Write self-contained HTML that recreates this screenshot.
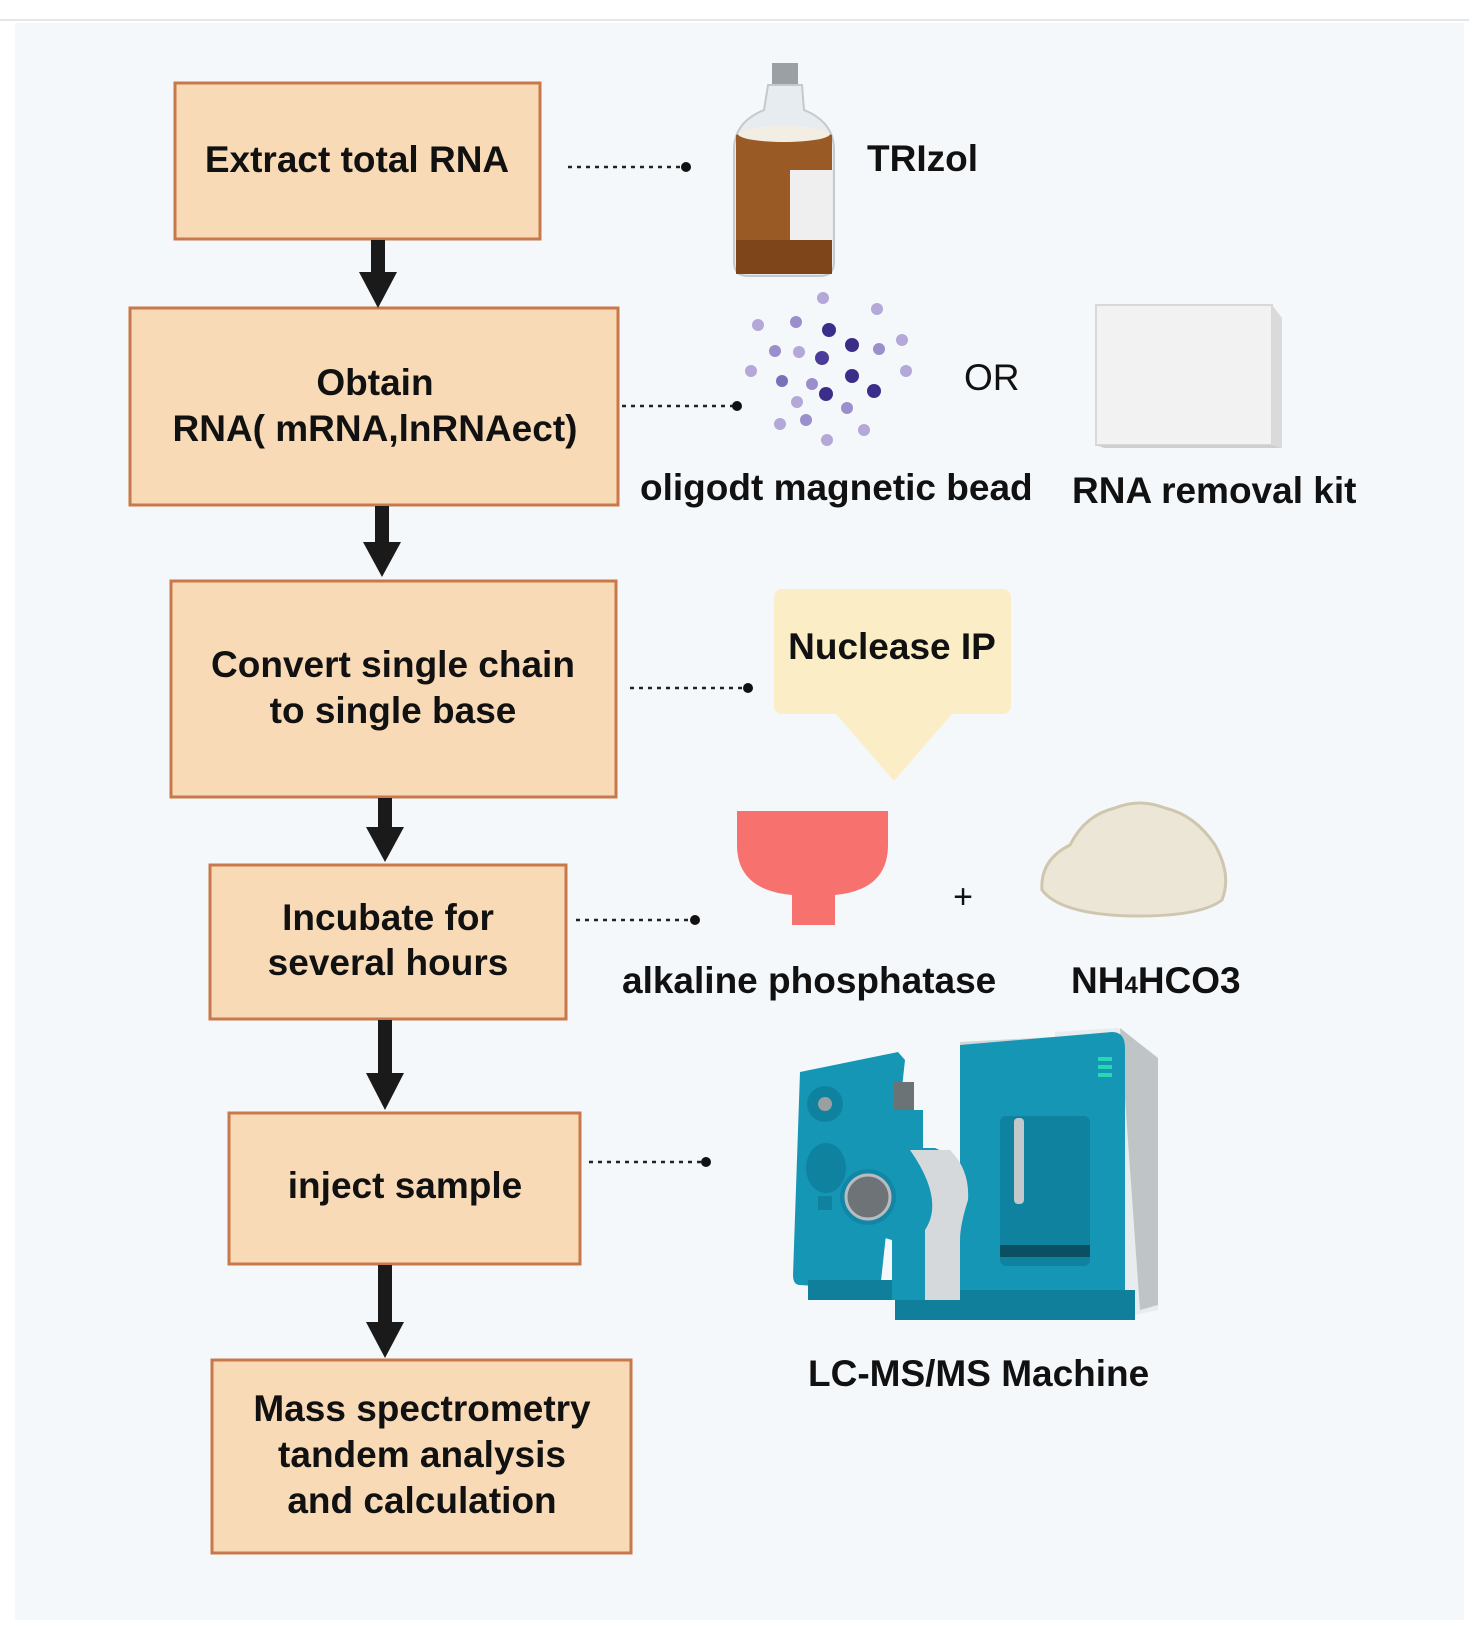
<!DOCTYPE html>
<html><head><meta charset="utf-8"><style>
html,body{margin:0;padding:0;background:#fff;}
svg{display:block;}
text{font-family:"Liberation Sans",sans-serif;font-weight:bold;fill:#111;}
</style></head><body>
<svg width="1469" height="1630" viewBox="0 0 1469 1630" xmlns="http://www.w3.org/2000/svg">
<rect x="0" y="0" width="1469" height="1630" fill="#ffffff"/>
<line x1="0" y1="20" x2="1469" y2="20" stroke="#e4e6e8" stroke-width="2"/>
<rect x="15" y="23" width="1449" height="1597" fill="#f5f8fb"/>

<g fill="#f8dab7" stroke="#c8784a" stroke-width="3">
<rect x="175" y="83" width="365" height="156"/>
<rect x="130" y="308" width="488" height="197"/>
<rect x="171" y="581" width="445" height="216"/>
<rect x="210" y="865" width="356" height="154"/>
<rect x="229" y="1113" width="351" height="151"/>
<rect x="212" y="1360" width="419" height="193"/>
</g>

<g fill="#1a1a1a">
<rect x="371" y="240" width="14" height="34"/><polygon points="359,272 397,272 378,308"/>
<rect x="375" y="506" width="14" height="40"/><polygon points="363,542 401,542 382,577"/>
<rect x="378" y="798" width="14" height="32"/><polygon points="366,827 404,827 385,862"/>
<rect x="378" y="1020" width="14" height="55"/><polygon points="366,1073 404,1073 385,1110"/>
<rect x="378" y="1265" width="14" height="60"/><polygon points="366,1322 404,1322 385,1358"/>
</g>

<g stroke="#222" stroke-width="2.5" stroke-dasharray="4,5">
<line x1="568" y1="167" x2="684" y2="167"/>
<line x1="622" y1="406" x2="735" y2="406"/>
<line x1="630" y1="688" x2="746" y2="688"/>
<line x1="576" y1="920" x2="693" y2="920"/>
<line x1="589" y1="1162" x2="704" y2="1162"/>
</g>
<g fill="#111">
<circle cx="686" cy="167" r="5"/><circle cx="737" cy="406" r="5"/><circle cx="748" cy="688" r="5"/><circle cx="695" cy="920" r="5"/><circle cx="706" cy="1162" r="5"/>
</g>

<g font-size="37" text-anchor="middle">
<text x="357" y="172">Extract total RNA</text>
<text x="375" y="395">Obtain</text>
<text x="375" y="441">RNA( mRNA,lnRNAect)</text>
<text x="393" y="677">Convert single chain</text>
<text x="393" y="723">to single base</text>
<text x="388" y="930">Incubate for</text>
<text x="388" y="975">several hours</text>
<text x="405" y="1198">inject sample</text>
<text x="422" y="1421">Mass spectrometry</text>
<text x="422" y="1467">tandem analysis</text>
<text x="422" y="1513">and calculation</text>
</g>

<!-- bottle -->
<g>
<rect x="772" y="63" width="26" height="22" fill="#9aa0a4"/>
<path d="M768,85 L802,85 L804,110 Q834,122 834,150 L834,262 Q834,276 820,276 L748,276 Q734,276 734,262 L734,150 Q734,122 764,110 Z" fill="#e6ecef" stroke="#c3c9cc" stroke-width="2"/>
<path d="M736,135 Q784,120 832,135 L832,262 Q832,274 820,274 L748,274 Q736,274 736,262 Z" fill="#9a5a26"/>
<rect x="736" y="240" width="96" height="34" fill="#7d4519"/>
<rect x="790" y="170" width="42" height="70" fill="#efefef"/>
<ellipse cx="784" cy="134" rx="46" ry="8" fill="#f3eee4"/>
</g>
<text x="867" y="171" font-size="37">TRIzol</text>

<!-- beads -->
<g>
<circle cx="823" cy="298" r="6" fill="#b3a8d8"/><circle cx="877" cy="309" r="6" fill="#b3a8d8"/>
<circle cx="758" cy="325" r="6" fill="#b3a8d8"/><circle cx="796" cy="322" r="6" fill="#9a8fcc"/>
<circle cx="829" cy="330" r="7" fill="#3b2e8a"/><circle cx="902" cy="340" r="6" fill="#b3a8d8"/>
<circle cx="775" cy="351" r="6" fill="#9a8fcc"/><circle cx="852" cy="345" r="7" fill="#3b2e8a"/>
<circle cx="879" cy="349" r="6" fill="#9a8fcc"/><circle cx="799" cy="352" r="6" fill="#b3a8d8"/>
<circle cx="822" cy="358" r="7" fill="#4a3d9a"/><circle cx="751" cy="371" r="6" fill="#b3a8d8"/>
<circle cx="782" cy="381" r="6" fill="#7b6fbc"/><circle cx="852" cy="376" r="7" fill="#3b2e8a"/>
<circle cx="906" cy="371" r="6" fill="#b3a8d8"/><circle cx="812" cy="384" r="6" fill="#9a8fcc"/>
<circle cx="826" cy="394" r="7" fill="#3b2e8a"/><circle cx="874" cy="391" r="7" fill="#3b2e8a"/>
<circle cx="797" cy="402" r="6" fill="#b3a8d8"/><circle cx="847" cy="408" r="6" fill="#9a8fcc"/>
<circle cx="780" cy="424" r="6" fill="#b3a8d8"/><circle cx="806" cy="420" r="6" fill="#9a8fcc"/>
<circle cx="864" cy="430" r="6" fill="#b3a8d8"/><circle cx="827" cy="440" r="6" fill="#b3a8d8"/>
</g>
<text x="964" y="390" font-size="37" font-weight="normal" style="font-weight:normal">OR</text>
<text x="640" y="500" font-size="37">oligodt magnetic bead</text>

<!-- kit -->
<g>
<rect x="1096" y="305" width="176" height="140" fill="#f2f2f2" stroke="#d8d8d8" stroke-width="2"/>
<polygon points="1272,305 1282,318 1282,448 1272,445" fill="#dadada"/>
<polygon points="1096,445 1272,445 1282,448 1104,448" fill="#cfcfcf"/>
</g>
<text x="1072" y="503" font-size="37">RNA removal kit</text>

<!-- callout -->
<rect x="774" y="589" width="237" height="125" rx="8" fill="#fbeec6"/>
<polygon points="836,714 952,714 894,781" fill="#fbeec6"/>
<text x="892" y="659" font-size="37" text-anchor="middle">Nuclease IP</text>

<!-- red cup -->
<path d="M737,811 L888,811 L888,845 Q888,890 835,895 L835,925 L792,925 L792,895 Q737,890 737,845 Z" fill="#f7726e"/>
<text x="963" y="908" font-size="34" font-weight="normal" text-anchor="middle" style="font-weight:normal">+</text>
<!-- powder -->
<path d="M1042,890 Q1040,860 1070,845 Q1085,815 1115,808 Q1140,798 1165,808 Q1195,815 1215,845 Q1232,875 1222,900 Q1200,917 1130,916 Q1060,914 1042,890 Z" fill="#ece6d6" stroke="#cfc6b0" stroke-width="3"/>
<text x="622" y="993" font-size="37">alkaline phosphatase</text>
<text x="1071" y="993" font-size="37">NH<tspan font-size="24">4</tspan>HCO3</text>

<!-- LC-MS machine -->
<g>
<polygon points="960,1042 1070,1036 1070,1290 960,1290" fill="#d2d6d8"/>
<polygon points="1055,1032 1118,1028 1158,1060 1158,1310 1120,1318 1055,1318" fill="#e9ecee"/>
<polygon points="1120,1028 1158,1058 1158,1305 1140,1310" fill="#bfc4c6"/>
<path d="M960,1045 L1112,1032 Q1125,1032 1125,1048 L1125,1300 L1000,1305 L960,1300 Z" fill="#1596b5"/>
<rect x="1000" y="1116" width="90" height="150" rx="6" fill="#0f82a0"/>
<rect x="1000" y="1245" width="90" height="12" fill="#0b4f62"/>
<rect x="1014" y="1118" width="10" height="86" rx="4" fill="#c4c8ca"/>
<g fill="#29d6b2"><rect x="1098" y="1057" width="14" height="4"/><rect x="1098" y="1065" width="14" height="4"/><rect x="1098" y="1073" width="14" height="4"/></g>
<path d="M800,1072 L898,1052 L905,1060 L880,1290 L800,1285 Q793,1285 793,1275 Z" fill="#1596b5"/>
<rect x="808" y="1280" width="90" height="20" fill="#0f7f9b"/>
<rect x="895" y="1290" width="240" height="30" fill="#0f7f9b"/>
<circle cx="825" cy="1104" r="18" fill="#0f82a0"/><circle cx="825" cy="1104" r="7" fill="#9aa0a2"/>
<ellipse cx="826" cy="1168" rx="20" ry="25" fill="#0f82a0"/>
<rect x="818" y="1196" width="14" height="14" fill="#0f82a0"/>
<rect x="894" y="1082" width="20" height="30" fill="#6b7376"/>
<rect x="893" y="1110" width="30" height="40" fill="#1596b5"/>
<path d="M851,1148 L935,1148 Q965,1160 967,1190 Q968,1220 960,1240 L960,1300 L892,1300 L892,1240 Q851,1230 851,1190 Z" fill="#1596b5"/>
<path d="M910,1150 L950,1150 Q970,1170 968,1200 Q960,1225 960,1240 L960,1300 L925,1300 L925,1230 Q945,1200 910,1150 Z" fill="#d6d9db"/>
<circle cx="868" cy="1197" r="28" fill="#1286a6"/>
<circle cx="868" cy="1197" r="22" fill="#6d7376" stroke="#b8bcbe" stroke-width="3"/>
</g>
<text x="808" y="1386" font-size="37">LC-MS/MS Machine</text>
</svg>
</body></html>
